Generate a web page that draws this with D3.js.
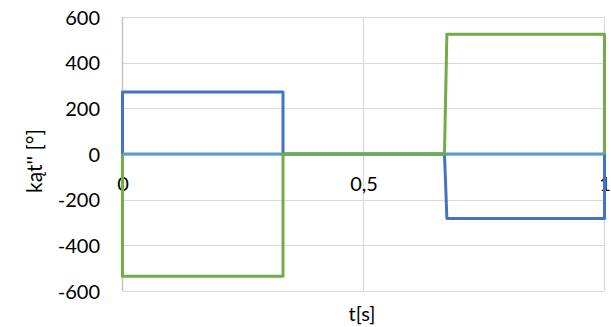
<!DOCTYPE html>
<html>
<head>
<meta charset="utf-8">
<script src="https://cdn.jsdelivr.net/npm/d3@7"></script>
<style>
  html, body { margin: 0; padding: 0; background: #fff; }
  svg text { font-family: Lato, "Open Sans", sans-serif; fill: #000; }
</style>
</head>
<body>
<svg id="chart" width="611" height="327"></svg>
<script>
// Step profile of angular acceleration over one cycle
const times      = [0, 0, 0.333, 0.333, 0.668, 0.673, 1, 1];
const seriesA    = [0, 272, 272, 0, 0, -282, -282, 0];   // blue
const seriesB    = [0, -535, -535, 0, 0, 525, 525, 0];   // green
const baseTimes  = [0, 1];
const baseValues = [0, 0];                              // light blue reference
const xTicks = [0, 0.5, 1];
const xTickLabels = ["0", "0,5", "1"];
const yTicks = [-600, -400, -200, 0, 200, 400, 600];

const svg = d3.select("#chart");
const plotLeft = 122.5, plotRight = 604.5, plotTop = 17, plotBottom = 291;

const x = d3.scaleLinear().domain([0, 1]).range([plotLeft, plotRight]);
const y = d3.scaleLinear().domain([-600, 600]).range([plotBottom, plotTop]);

// gridlines
const grid = svg.append("g");
grid.selectAll("line.h").data(yTicks).join("line")
  .attr("x1", plotLeft).attr("x2", plotRight)
  .attr("y1", d => Math.round(y(d)) + 0.5).attr("y2", d => Math.round(y(d)) + 0.5)
  .attr("stroke", "#d9d9d9").attr("stroke-width", 1.2);
grid.selectAll("line.v").data(xTicks).join("line")
  .attr("x1", d => x(d)).attr("x2", d => x(d))
  .attr("y1", plotTop).attr("y2", plotBottom)
  .attr("stroke", d => d === 0 ? "#c6c6c6" : "#d9d9d9")
  .attr("stroke-width", d => d === 0 ? 1.6 : 1.2);

// horizontal axis line at zero
svg.append("line")
  .attr("x1", plotLeft).attr("x2", plotRight)
  .attr("y1", y(0) + 1).attr("y2", y(0) + 1)
  .attr("stroke", "#bfbfbf").attr("stroke-width", 1);

// y tick labels (plain hyphen for negatives)
const yAxis = d3.axisLeft(y).tickValues(yTicks).tickSize(0).tickPadding(0)
  .tickFormat(d => String(d));
const ya = svg.append("g").attr("transform", `translate(${100},0)`).call(yAxis);
ya.select(".domain").remove();
ya.selectAll("text").attr("font-size", 20).attr("font-family", "Lato, sans-serif")
  .attr("dy", "0.36em").attr("x", 0);

// x tick labels, sitting just under the zero line
const xAxis = d3.axisBottom(x).tickValues(xTicks).tickSize(0).tickPadding(0)
  .tickFormat((d, i) => xTickLabels[i]);
const xa = svg.append("g").attr("transform", `translate(0,${y(0)})`).call(xAxis);
xa.select(".domain").remove();
xa.selectAll("text").attr("font-size", 20).attr("font-family", "Lato, sans-serif")
  .attr("dy", 0).attr("y", 37);

// series
const line = d3.line().x(d => x(d[0])).y(d => y(d[1]));
const drawSeries = (ts, vs, color) => svg.append("path")
  .datum(ts.map((t, i) => [t, vs[i]]))
  .attr("d", line)
  .attr("fill", "none")
  .attr("stroke", color)
  .attr("stroke-width", 3)
  .attr("stroke-linejoin", "round");

drawSeries(times, seriesA, "#4472c4");
drawSeries(baseTimes, baseValues, "#5b9bd5");
drawSeries(times, seriesB, "#70ad47");

// axis titles
svg.append("text")
  .attr("transform", `translate(42,161) rotate(-90)`)
  .attr("text-anchor", "middle")
  .attr("font-size", 21)
  .text("kąt'' [°]");

svg.append("text")
  .attr("x", 362).attr("y", 321)
  .attr("text-anchor", "middle")
  .attr("font-size", 20)
  .text("t[s]");
</script>
</body>
</html>
